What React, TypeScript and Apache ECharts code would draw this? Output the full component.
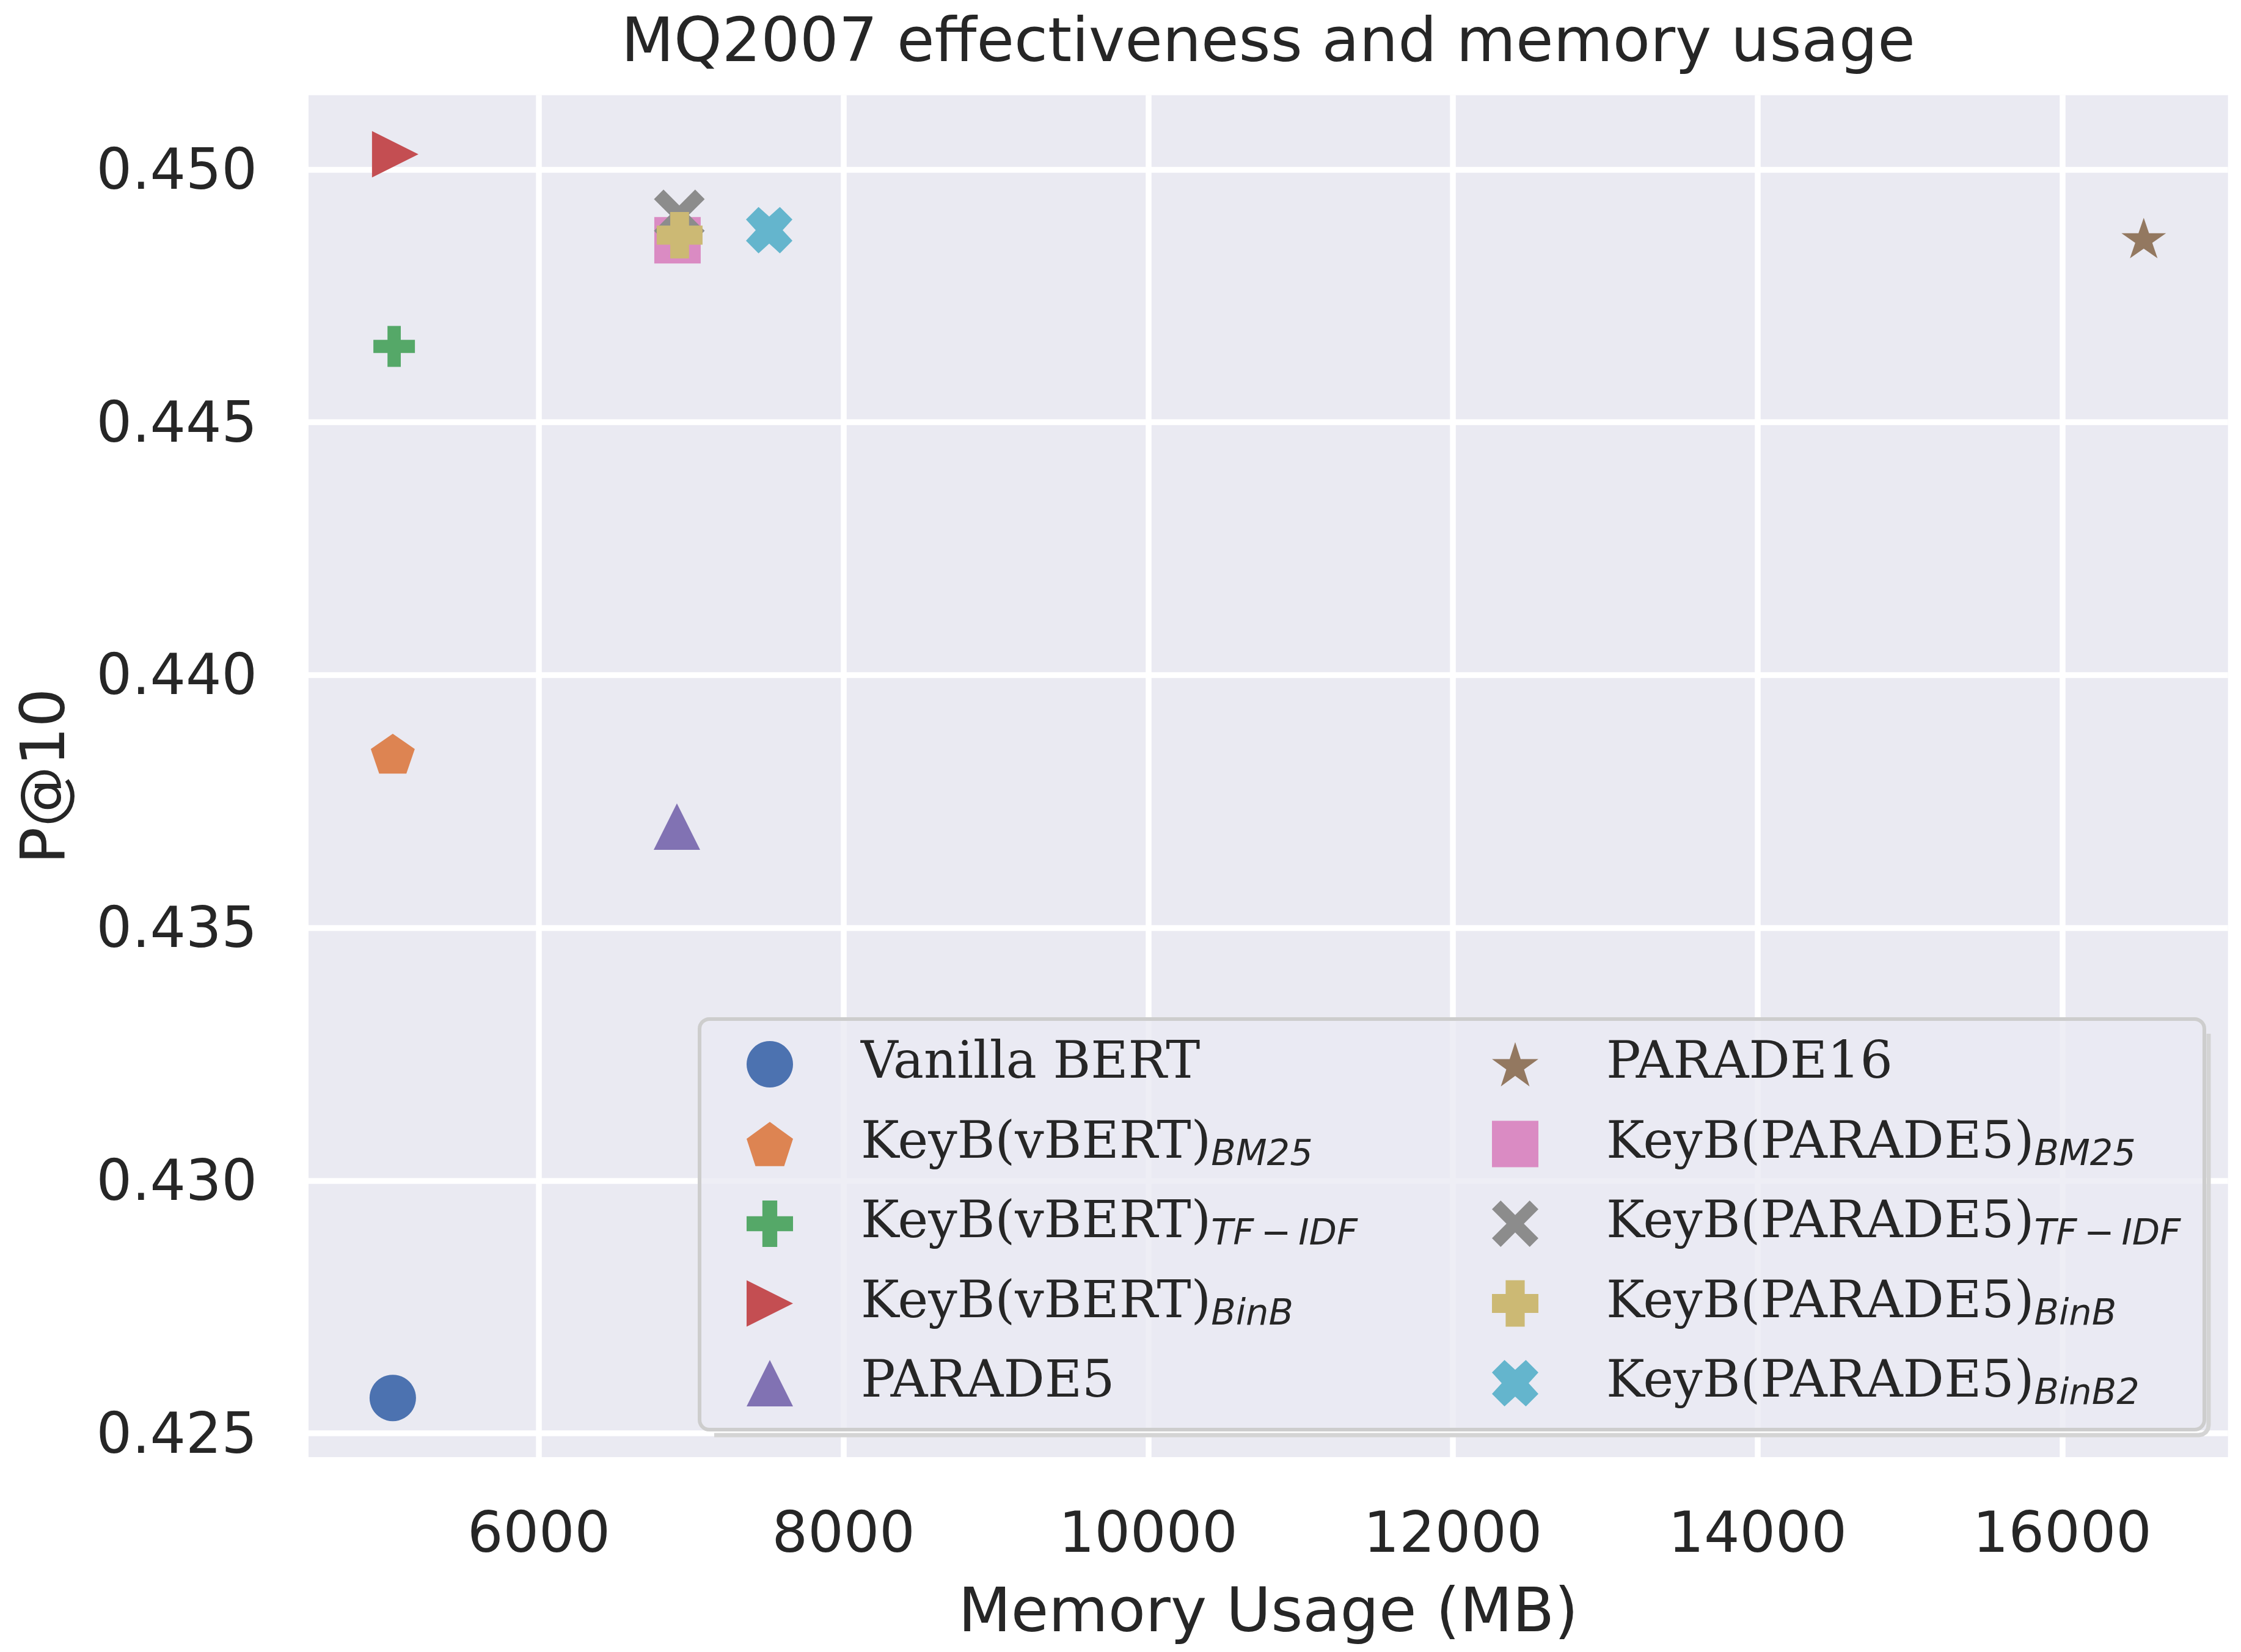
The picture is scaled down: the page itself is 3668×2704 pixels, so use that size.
import { useEffect, useRef } from 'react';
import * as echarts from 'echarts';

// ---------- data ----------
const seriesNames = [
  'Vanilla BERT',
  'KeyB(vBERT) BM25',
  'KeyB(vBERT) TF-IDF',
  'KeyB(vBERT) BinB',
  'PARADE5',
  'PARADE16',
  'KeyB(PARADE5) BM25',
  'KeyB(PARADE5) TF-IDF',
  'KeyB(PARADE5) BinB',
  'KeyB(PARADE5) BinB2',
];
const labelMain = [
  'Vanilla BERT',
  'KeyB(vBERT)',
  'KeyB(vBERT)',
  'KeyB(vBERT)',
  'PARADE5',
  'PARADE16',
  'KeyB(PARADE5)',
  'KeyB(PARADE5)',
  'KeyB(PARADE5)',
  'KeyB(PARADE5)',
];
const labelSub = ['', 'BM25', 'TF\u2009−\u2009IDF', 'BinB', '', '', 'BM25', 'TF\u2009−\u2009IDF', 'BinB', 'BinB2'];
const memoryUsageMB = [5041, 5041, 5050, 5057, 6906, 16535, 6910, 6922, 6924, 7512];
const precisionAt10 = [0.4257, 0.4384, 0.4465, 0.4503, 0.437, 0.4486, 0.4486, 0.4491, 0.4487, 0.4488];
const xTicks = [6000, 8000, 10000, 12000, 14000, 16000];
const yTicks = [0.425, 0.43, 0.435, 0.44, 0.445, 0.45];
const xRange = [4488, 17088];
const yRange = [0.42453, 0.45147];

// ---------- styles ----------
const COLORS = ['#4C72B0', '#DD8452', '#55A868', '#C44E52', '#8172B3', '#937860', '#DA8BC3', '#8C8C8C', '#CCB974', '#64B5CD'];
const PENTAGON = 'path://M0,-100L95.11,-30.9L58.78,80.9L-58.78,80.9L-95.11,-30.9Z';
const STAR = 'path://M0,-100L22.45,-30.9L95.11,-30.9L36.33,11.8L58.78,80.9L0,38.2L-58.78,80.9L-36.33,11.8L-95.11,-30.9L-22.45,-30.9Z';
const PLUS_THIN = 'path://M34,0H66V34H100V66H66V100H34V66H0V34H34Z';
const PLUS_FILLED = 'path://M29.5,0H70.5V29.5H100V70.5H70.5V100H29.5V70.5H0V29.5H29.5Z';
const TRI_RIGHT = 'path://M0,0L100,50L0,100Z';
const X_LINE = 'path://M-41.5,-25.9L-25.9,-41.5L0,-15.56L25.9,-41.5L41.5,-25.9L15.56,0L41.5,25.9L25.9,41.5L0,15.56L-25.9,41.5L-41.5,25.9L-15.56,0Z';
const X_FILLED = 'path://M27,0L50,21L73,0L100,27L79,50L100,73L73,100L50,79L27,100L0,73L21,50L0,27Z';
const SYMBOLS = ['circle', PENTAGON, PLUS_THIN, TRI_RIGHT, 'triangle', STAR, 'rect', X_LINE, PLUS_FILLED, X_FILLED];
const SIZES: any[] = [76, [72, 68.5], [68, 67], 76, 76, [73, 69.5], 76, [83, 83], [75, 76], 76];
const OFFSETS: any[] = [[0, 0], [0, -3.6], [0, 0], [0, 0], [0, 0], [0, -3.6], [0, 0], [0, 0], [0, 0], [0, 0]];

const TEXT = '#262626';
const SANS = 'DejaVu Sans';

function legendLabel(name: string) {
  const i = seriesNames.indexOf(name);
  return labelSub[i] ? `{m|${labelMain[i]}}{s|${labelSub[i]}}` : `{m|${labelMain[i]}}`;
}

function makeLegend(names: string[], left: number) {
  return {
    show: true,
    orient: 'vertical',
    left,
    top: 1685,
    padding: 0,
    itemGap: 16.5,
    itemWidth: 76,
    itemHeight: 76,
    selectedMode: false,
    data: names.map((n) => ({ name: n, icon: SYMBOLS[seriesNames.indexOf(n)] })),
    formatter: legendLabel,
    textStyle: {
      color: TEXT,
      padding: [0, 0, 14, 106],
      backgroundColor: 'rgba(0,0,0,0)',
      rich: {
        m: { fontFamily: 'DejaVu Serif', fontSize: 84, lineHeight: 100, color: TEXT, verticalAlign: 'middle' },
        s: { fontFamily: SANS, fontStyle: 'italic', fontSize: 59, lineHeight: 51, color: TEXT, verticalAlign: 'bottom' },
      },
    },
  };
}

const FL = 1145, FT = 1668, FR = 3608, FB = 2340, FRAD = 16;

export default function App() {
  const ref = useRef<HTMLDivElement>(null);
  useEffect(() => {
    const chart = echarts.init(ref.current!, null, { renderer: 'svg', width: 3668, height: 2704 });
    const option: any = {
      animation: false,
      backgroundColor: '#ffffff',
      textStyle: { fontFamily: SANS },
      grid: {
        left: 505,
        right: 21.3,
        top: 155.7,
        bottom: 319,
        show: true,
        backgroundColor: '#EAEAF2',
        borderWidth: 0,
        containLabel: false,
      },
      xAxis: {
        type: 'value',
        min: xRange[0],
        max: xRange[1],
        name: 'Memory Usage (MB)',
        nameLocation: 'middle',
        nameGap: 200,
        nameTextStyle: { fontSize: 100, color: TEXT, fontFamily: SANS },
        axisLine: { show: false },
        axisTick: { show: false, customValues: xTicks },
        axisLabel: {
          customValues: xTicks,
          fontSize: 92,
          color: TEXT,
          fontFamily: SANS,
          margin: 77,
          formatter: (v: number) => String(Math.round(v)),
        },
        splitLine: { show: true, lineStyle: { color: '#ffffff', width: 9.5 } },
      },
      yAxis: {
        type: 'value',
        min: yRange[0],
        max: yRange[1],
        name: 'P@10',
        nameLocation: 'middle',
        nameRotate: 90,
        nameGap: 385,
        nameTextStyle: { fontSize: 100, color: TEXT, fontFamily: SANS },
        axisLine: { show: false },
        axisTick: { show: false, customValues: yTicks },
        axisLabel: {
          customValues: yTicks,
          fontSize: 92,
          color: TEXT,
          fontFamily: SANS,
          margin: 84,
          formatter: (v: number) => v.toFixed(3),
        },
        splitLine: { show: true, lineStyle: { color: '#ffffff', width: 9.5 } },
      },
      legend: [makeLegend(seriesNames.slice(0, 5), 1222), makeLegend(seriesNames.slice(5), 2442)],
      graphic: [
        {
          type: 'text',
          x: 2075.8,
          y: 15.4,
          z: 5,
          style: {
            text: 'MQ2007 effectiveness and memory usage',
            fontSize: 100,
            fontFamily: SANS,
            fill: TEXT,
            textAlign: 'center',
            textVerticalAlign: 'top',
          },
        },
        {
          type: 'polyline',
          z: 3,
          silent: true,
          shape: {
            points: [
              [FR + 7, FT + 24],
              [FR + 7, FB + 9 - FRAD],
              [FR + 5.8, FB + 9 - 9.9],
              [FR + 2.3, FB + 9 - 4.7],
              [FR - 2.9, FB + 9 - 1.2],
              [FR + 7 - FRAD, FB + 9],
              [FL + 24, FB + 9],
            ],
          },
          style: { stroke: '#d4d4d4', lineWidth: 7, fill: null },
        },
        {
          type: 'rect',
          z: 3,
          silent: true,
          shape: { x: FL, y: FT, width: FR - FL, height: FB - FT, r: FRAD },
          style: { fill: 'rgba(234,234,242,0.8)', stroke: '#cdcdcd', lineWidth: 6 },
        },
      ],
      series: seriesNames.map((name, i) => ({
        name,
        type: 'scatter',
        silent: true,
        symbol: SYMBOLS[i],
        symbolSize: SIZES[i],
        symbolOffset: OFFSETS[i],
        symbolKeepAspect: true,
        itemStyle: { color: COLORS[i], opacity: 1 },
        emphasis: { disabled: true },
        data: [[memoryUsageMB[i], precisionAt10[i]]],
        z: 2,
      })),
    };
    chart.setOption(option);
    return () => chart.dispose();
  }, []);
  return <div ref={ref} style={{ position: 'absolute', left: 0, top: 0, width: 3668, height: 2704 }} />;
}
